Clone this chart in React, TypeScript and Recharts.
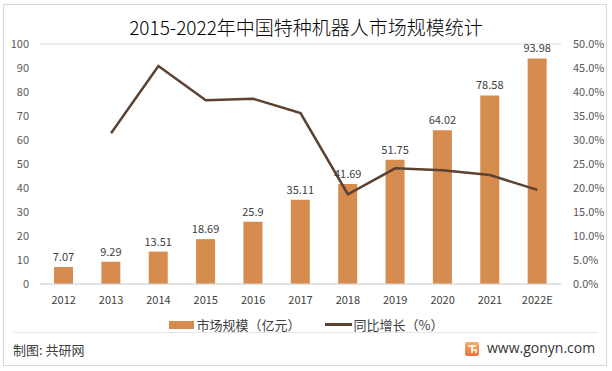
import { ComposedChart, Bar, Line, XAxis, YAxis, CartesianGrid, LabelList } from 'recharts'

const years = ['2012', '2013', '2014', '2015', '2016', '2017', '2018', '2019', '2020', '2021', '2022E']
const marketSize = [7.07, 9.29, 13.51, 18.69, 25.9, 35.11, 41.69, 51.75, 64.02, 78.58, 93.98]
const growth = [null, 0.314, 0.454, 0.383, 0.386, 0.356, 0.187, 0.241, 0.237, 0.227, 0.196]
const leftTicks = [0, 10, 20, 30, 40, 50, 60, 70, 80, 90, 100]
const rightTicks = [0, 0.05, 0.1, 0.15, 0.2, 0.25, 0.3, 0.35, 0.4, 0.45, 0.5]

const data = years.map((year, i) => ({ year, size: marketSize[i], growth: growth[i] }))

const BAR = '#D68C4F'
const LINE = '#5C4230'
const FONT = '"Noto Sans CJK SC", "Noto Sans", sans-serif'

export default function App() {
  return (
    <div style={{ position: 'absolute', left: 0, top: 0, width: 612, height: 371, background: '#fff', fontFamily: FONT }}>
      <div style={{ position: 'absolute', left: 3, top: 4, width: 604, height: 362, border: '1px solid #d9d9d9', boxSizing: 'border-box' }} />
      <div style={{ position: 'absolute', left: 0, top: 13, width: 612, textAlign: 'center', fontSize: 19, fontWeight: 300, color: '#000' }}>
        2015-2022年中国特种机器人市场规模统计
      </div>
      <ComposedChart width={612} height={371} data={data} margin={{ top: 44, right: 0, bottom: 57, left: 0 }}
        style={{ position: 'absolute', left: 0, top: 0 }}>
        <CartesianGrid vertical={false} stroke="#d9d9d9" />
        <XAxis dataKey="year" height={30} tickLine={false} axisLine={{ stroke: '#d9d9d9' }} tickMargin={6}
          tick={{ fontSize: 11, fill: '#404040' }} />
        <YAxis yAxisId="left" width={40} domain={[0, 100]} ticks={leftTicks} axisLine={false} tickLine={false}
          tickMargin={5} tick={{ fontSize: 11, fill: '#595959' }} />
        <YAxis yAxisId="right" orientation="right" width={51} domain={[0, 0.5]} ticks={rightTicks} axisLine={false}
          tickLine={false} tickMargin={6} tick={{ fontSize: 11, fill: '#595959' }}
          tickFormatter={(v) => (v * 100).toFixed(1) + '%'} />
        <Bar yAxisId="left" dataKey="size" fill={BAR} barSize={19} isAnimationActive={false}>
          <LabelList dataKey="size" position="top" offset={6} style={{ fontSize: 11, fill: '#404040' }} />
        </Bar>
        <Line yAxisId="right" dataKey="growth" stroke={LINE} strokeWidth={2.5} dot={false} isAnimationActive={false} />
      </ComposedChart>
      <div style={{ position: 'absolute', left: 0, top: 315, width: 612, display: 'flex', justifyContent: 'center', alignItems: 'center', fontSize: 13, color: '#404040' }}>
        <div style={{ width: 25, height: 8, background: BAR, marginRight: 3 }} />
        <span>市场规模（亿元）</span>
        <div style={{ width: 27, height: 3, background: LINE, marginLeft: 24, marginRight: 2 }} />
        <span>同比增长（%）</span>
      </div>
      <div style={{ position: 'absolute', left: 13, top: 332, width: 585, borderTop: '1px solid #e6e6e6' }} />
      <div style={{ position: 'absolute', left: 13, top: 340, fontSize: 13, color: '#404040' }}>制图: 共研网</div>
      <svg width={14} height={14} style={{ position: 'absolute', left: 465, top: 342 }}>
        <defs>
          <linearGradient id="lg" x1="0" y1="0" x2="0" y2="1">
            <stop offset="0" stopColor="#f7b267" />
            <stop offset="1" stopColor="#f0703c" />
          </linearGradient>
        </defs>
        <rect x={0} y={0} width={14} height={14} rx={2} fill="url(#lg)" />
        <path d="M3 4 H11 M7 4 V11 M7 8 H11 V11" stroke="#fff" strokeWidth={1.6} fill="none" />
      </svg>
      <div style={{ position: 'absolute', left: 487, top: 338, fontSize: 14, color: '#333', fontFamily: '"Open Sans", sans-serif' }}>
        www.gonyn.com
      </div>
    </div>
  )
}
